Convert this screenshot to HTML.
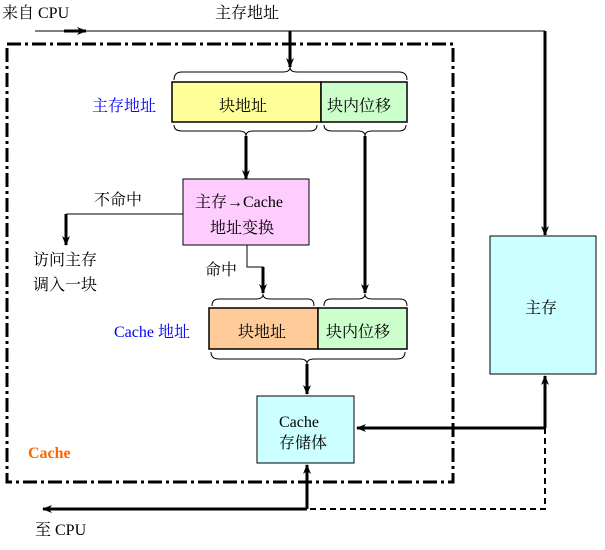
<!DOCTYPE html>
<html><head><meta charset="utf-8"><style>
body{margin:0;background:#fff}
svg text{font-family:"Liberation Serif","Noto Serif CJK SC","Noto Sans CJK SC",serif;font-size:16px}
</style></head><body>
<svg width="605" height="545" viewBox="0 0 605 545" xmlns="http://www.w3.org/2000/svg">
<defs>
<marker id="a" markerWidth="10" markerHeight="10" refX="9" refY="5" orient="auto" markerUnits="userSpaceOnUse">
<path d="M0,1 L10,5 L0,9 L3,5 Z" fill="#000"/></marker>
</defs>
<rect x="7" y="44" width="446" height="438" fill="none" stroke="#000" stroke-width="3" stroke-dasharray="14,4,3,4"/>
<line x1="35" y1="31" x2="545" y2="31" stroke="#000" stroke-width="1"/>
<line x1="64" y1="31" x2="86" y2="31" stroke="#000" stroke-width="3" marker-end="url(#a)"/>
<line x1="545" y1="31" x2="545" y2="235" stroke="#000" stroke-width="3" marker-end="url(#a)"/>
<line x1="290" y1="31" x2="290" y2="67" stroke="#000" stroke-width="3" marker-end="url(#a)"/>
<text x="2" y="18">来自 CPU</text>
<text x="215" y="18">主存地址</text>
<path d="M174,80 Q174,72 182,72 L283,72 Q290,72 290,67 Q290,72 297,72 L399,72 Q407,72 407,80" fill="none" stroke="#000"/>
<rect x="172" y="82" width="149" height="40" fill="#ffff99" stroke="#000" stroke-width="1.5"/>
<rect x="321" y="82" width="86" height="40" fill="#ccffcc" stroke="#000" stroke-width="1.5"/>
<text x="219" y="111" font-size="18">块地址</text>
<text x="327" y="111" font-size="18">块内位移</text>
<text x="92" y="111" font-size="17" fill="#0000ff">主存地址</text>
<path d="M174,125 Q174,131 182,131 L239,131 Q246,131 246,136 Q246,131 253,131 L310,131 Q317,131 317,125" fill="none" stroke="#000"/>
<path d="M324,125 Q324,131 332,131 L358,131 Q365,131 365,136 Q365,131 372,131 L399,131 Q406,131 406,125" fill="none" stroke="#000"/>
<line x1="246" y1="136" x2="246" y2="179" stroke="#000" stroke-width="3" marker-end="url(#a)"/>
<line x1="365" y1="136" x2="365" y2="293" stroke="#000" stroke-width="3" marker-end="url(#a)"/>
<rect x="183" y="179" width="126" height="66" fill="#ffccff" stroke="#000"/>
<text x="195" y="207" font-size="17">主存→Cache</text>
<text x="210" y="233" font-size="17">地址变换</text>
<text x="94" y="205">不命中</text>
<line x1="183" y1="214" x2="66" y2="214" stroke="#000" stroke-width="1"/>
<line x1="66" y1="214" x2="66" y2="245" stroke="#000" stroke-width="3" marker-end="url(#a)"/>
<text x="33" y="265">访问主存</text>
<text x="33" y="290">调入一块</text>
<text x="205" y="275">命中</text>
<polyline points="247,245 247,267 263,267 263,275" fill="none" stroke="#000"/>
<line x1="263" y1="267" x2="263" y2="293" stroke="#000" stroke-width="3" marker-end="url(#a)"/>
<path d="M212,306 Q212,299 219,299 L256,299 Q263,299 263,294 Q263,299 270,299 L308,299 Q314,299 314,306" fill="none" stroke="#000"/>
<path d="M324,306 Q324,299 331,299 L358,299 Q365,299 365,294 Q365,299 372,299 L400,299 Q407,299 407,306" fill="none" stroke="#000"/>
<rect x="209" y="308" width="109" height="41" fill="#ffcc99" stroke="#000" stroke-width="1.5"/>
<rect x="318" y="308" width="89" height="41" fill="#ccffcc" stroke="#000" stroke-width="1.5"/>
<text x="238" y="337" font-size="18">块地址</text>
<text x="326" y="337" font-size="18">块内位移</text>
<text x="114" y="337" font-size="17" fill="#0000ff">Cache 地址</text>
<path d="M211,352 Q211,359 219,359 L300,359 Q307,359 307,364 Q307,359 314,359 L397,359 Q405,359 405,352" fill="none" stroke="#000"/>
<line x1="307" y1="364" x2="307" y2="394" stroke="#000" stroke-width="3" marker-end="url(#a)"/>
<rect x="257" y="396" width="97" height="67" fill="#ccffff" stroke="#000"/>
<text x="279" y="427" font-size="17">Cache</text>
<text x="279" y="448" font-size="17">存储体</text>
<text x="28" y="458" font-size="15" font-weight="bold" fill="#ff6600">Cache</text>
<rect x="490" y="236" width="106" height="138" fill="#ccffff" stroke="#000"/>
<text x="525" y="313" font-size="18">主存</text>
<line x1="545" y1="428" x2="545" y2="376" stroke="#000" stroke-width="3" marker-end="url(#a)"/>
<line x1="545" y1="428" x2="357" y2="428" stroke="#000" stroke-width="3" marker-end="url(#a)"/>
<polyline points="545,428 545,509 307,509" fill="none" stroke="#000" stroke-width="2" stroke-dasharray="6,4"/>
<line x1="307" y1="509" x2="307" y2="465" stroke="#000" stroke-width="3" marker-end="url(#a)"/>
<line x1="307" y1="509" x2="43" y2="509" stroke="#000" stroke-width="3" marker-end="url(#a)"/>
<text x="35" y="535">至 CPU</text>
</svg>
</body></html>
